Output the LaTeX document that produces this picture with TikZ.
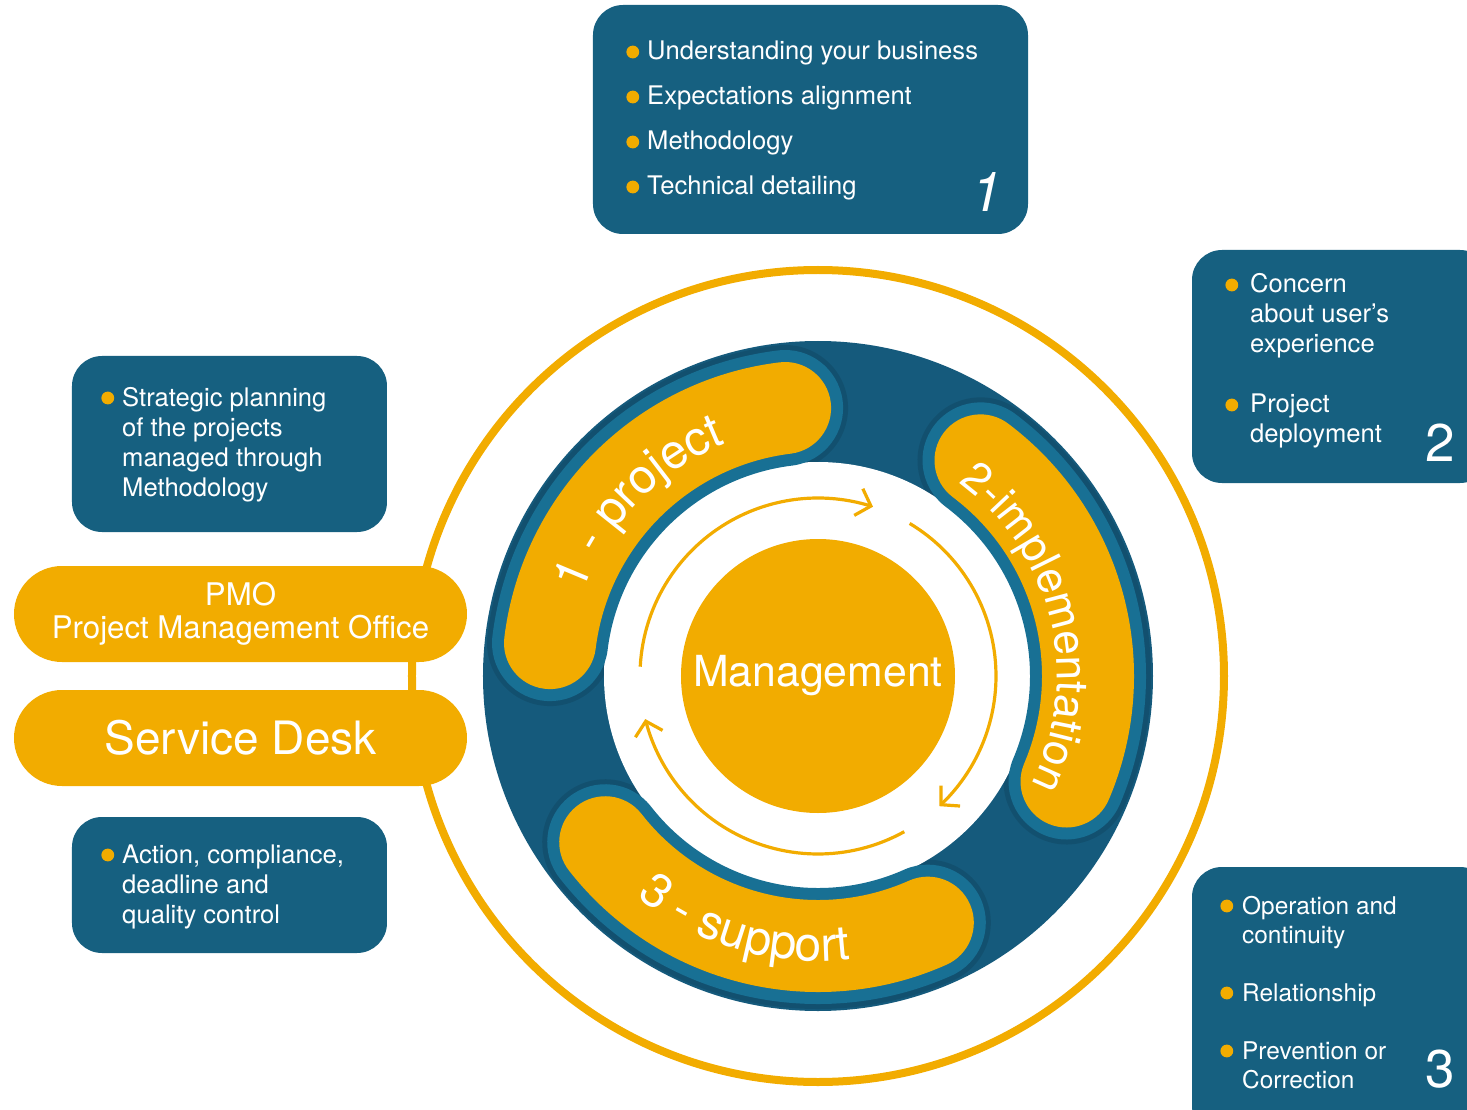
\documentclass[tikz,border=0pt]{standalone}
\usepackage{fontspec}
\setmainfont{TeX Gyre Heros}
\usetikzlibrary{arrows.meta}
\usetikzlibrary{bending}
\usetikzlibrary{decorations.text}
\usetikzlibrary{shapes.misc}
\usetikzlibrary{positioning}
\definecolor{gold}{RGB}{242,172,0}
\definecolor{discblue}{RGB}{21,90,124}
\definecolor{boxblue}{RGB}{22,96,128}
\definecolor{rimblue}{RGB}{24,112,148}
\newcommand\dotmark{\tikz[baseline=-4pt]\fill[gold] (0,0) circle (3.2pt);}
\newcommand\pillfont{\fontsize{24}{24}\selectfont}
\newcommand\pillfontb{\fontsize{22}{22}\selectfont}
\tikzset{
  infobox/.style = {rectangle, rounded corners=15pt, fill=boxblue, inner sep=0pt},
  itemlist/.style = {anchor=base west, inner sep=0pt, text=white},
  bignum/.style = {anchor=base, inner sep=0pt, text=white},
  sidepill/.style = {rounded rectangle, fill=gold, text=white, inner sep=0pt,
                     minimum width=226.5pt, minimum height=48pt, align=center},
  pillshadow/.style = {draw=black, opacity=0.1, line width=63pt, line cap=round},
  pillrim/.style = {draw=rimblue, line width=58pt, line cap=round},
  pillbody/.style = {draw=gold, line width=46pt, line cap=round},
  cyclearrow/.style = {draw=gold, line width=1.6pt, -{Straight Barb[length=6.5pt,width=14pt]}},
  pilltext/.style = {decorate, decoration={text along path, text align=center, text color=white}},
}

\begin{document}
\begin{tikzpicture}[x=0.5pt, y=0.5pt]
    \useasboundingbox (-818,-433) rectangle (649,676);

    \draw[gold, line width=4pt] (0,0) circle[radius=406];
    \fill[discblue] (0,0) circle[radius=335];
    \begin{scope}
      \clip (0,0) circle[radius=335];
      \foreach \a/\b in {173/97, 53/-23, -142/-66}
        \draw[pillshadow] (\a:270) arc[start angle=\a, end angle=\b, radius=270];
    \end{scope}
    \fill[white] (0,0) circle[radius=214];
    \foreach \a/\b in {173/97, 53/-23, -142/-66} {
      \draw[pillrim] (\a:270) arc[start angle=\a, end angle=\b, radius=270];
      \draw[pillbody] (\a:270) arc[start angle=\a, end angle=\b, radius=270];
    }
    \path[pilltext, decoration={text={|\pillfont|1 - project}}]
      (178:250) arc[start angle=178, end angle=94, radius=250];
    \path[pilltext, decoration={text={|\pillfontb|2-implementation}}]
      (60:239) arc[start angle=60, end angle=-33, radius=239];
    \path[pilltext, decoration={text={|\pillfont|3 - support}}]
      (-150:285) arc[start angle=-150, end angle=-63, radius=285];

    \draw[cyclearrow] (177:178) arc[start angle=177, end angle=72, radius=178];
    \draw[cyclearrow] (59:178) arc[start angle=59, end angle=-47, radius=178];
    \draw[cyclearrow] (-61:178) arc[start angle=-61, end angle=-166, radius=178];

    \node[circle, fill=gold, text=white, minimum size=137pt, inner sep=0pt,
          font=\fontsize{21.4}{21.4}\selectfont] (mgmt) at (0,0) {Management};

    \node[infobox, minimum width=217.5pt, minimum height=114.5pt] (box1) at (-7.5,556.5) {};
    \node[infobox, minimum width=149pt, minimum height=116.5pt] (box2) at (523,309.5) {};
    \node[infobox, minimum width=149pt, minimum height=134.5pt] (box3) at (523,-325.5) {};
    \node[infobox, minimum width=157.5pt, minimum height=88pt] (plan) at (-588.5,232) {};
    \node[infobox, minimum width=157.5pt, minimum height=68pt] (control) at (-588.5,-209) {};

    \node[itemlist, font=\fontsize{12.8}{22.5}\selectfont] (list1) at (-192,616) {%
      \begin{tabular}[t]{@{}c@{\hspace{4pt}}l@{}}
        \dotmark & Understanding your business\\
        \dotmark & Expectations alignment\\
        \dotmark & Methodology\\
        \dotmark & Technical detailing
      \end{tabular}};
    \node[itemlist, font=\fontsize{12.8}{15}\selectfont] (list2) at (407,383) {%
      \begin{tabular}[t]{@{}c@{\hspace{6pt}}l@{}}
        \dotmark & Concern\\
                 & about user's\\
                 & experience\\[15pt]
        \dotmark & Project\\
                 & deployment
      \end{tabular}};
    \node[itemlist, font=\fontsize{12.2}{14.5}\selectfont] (list3) at (402,-238) {%
      \begin{tabular}[t]{@{}c@{\hspace{4.5pt}}l@{}}
        \dotmark & Operation and\\
                 & continuity\\[14.5pt]
        \dotmark & Relationship\\[14.5pt]
        \dotmark & Prevention or\\
                 & Correction
      \end{tabular}};
    \node[itemlist, font=\fontsize{12.8}{15}\selectfont] (planlist) at (-717,270) {%
      \begin{tabular}[t]{@{}c@{\hspace{4pt}}l@{}}
        \dotmark & Strategic planning\\
                 & of the projects\\
                 & managed through\\
                 & Methodology
      \end{tabular}};
    \node[itemlist, font=\fontsize{12.8}{15}\selectfont] (controllist) at (-717,-187) {%
      \begin{tabular}[t]{@{}c@{\hspace{4pt}}l@{}}
        \dotmark & Action, compliance,\\
                 & deadline and\\
                 & quality control
      \end{tabular}};

    \node[bignum, font=\fontsize{27.5}{27.5}\selectfont\itshape] (num1) at (169,464) {1};
    \node[bignum, font=\fontsize{26.5}{26.5}\selectfont] (num2) at (622,214) {2};
    \node[bignum, font=\fontsize{26.5}{26.5}\selectfont] (num3) at (622,-411) {3};

    \node[sidepill, font=\fontsize{15.6}{16.5}\selectfont] (pmo) at (-577.5,62)
      {PMO\\Project Management Office};
    \node[sidepill, font=\fontsize{23}{23}\selectfont] (desk) at (-577.5,-62) {Service Desk};
\end{tikzpicture}
\end{document}
